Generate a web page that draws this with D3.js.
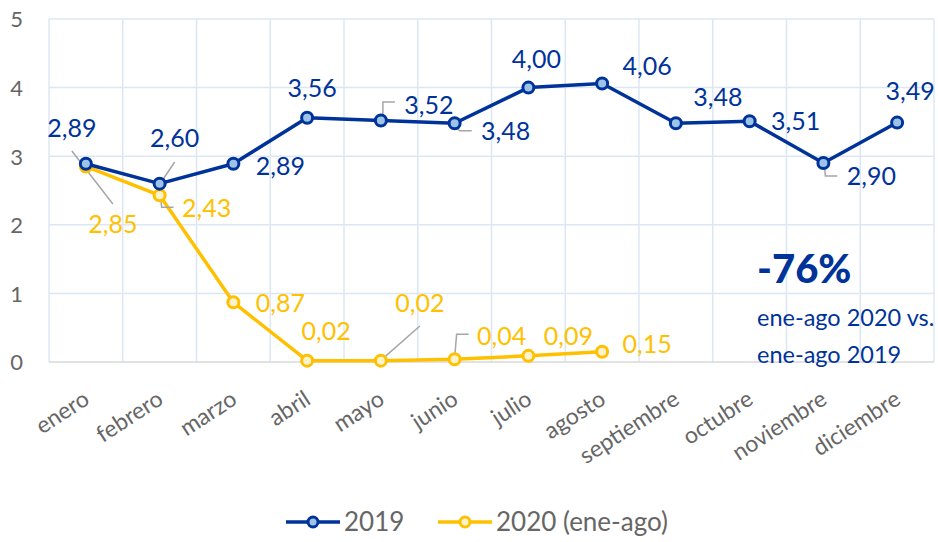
<!DOCTYPE html>
<html><head><meta charset="utf-8">
<script src="https://cdn.jsdelivr.net/npm/d3@7"></script>
<style>body{margin:0;background:#fff}svg{display:block;font-family:Lato,"Open Sans",sans-serif}</style>
</head><body><svg id="c" width="938" height="542"></svg>
<script>
const months = ["enero","febrero","marzo","abril","mayo","junio","julio","agosto","septiembre","octubre","noviembre","diciembre"];
const values2019 = [2.89,2.60,2.89,3.56,3.52,3.48,4.00,4.06,3.48,3.51,2.90,3.49];
const values2020 = [2.85,2.43,0.87,0.02,0.02,0.04,0.09,0.15];
const yTicks = [0,1,2,3,4,5];
const seriesNames = ["2019","2020 (ene-ago)"];

// layout (label offsets relative to points)
const off2019 = [[-14,-27],[15,-37],[47,11],[5,-21],[48,-7],[51,17],[8,-20],[45,-8],[42,-17],[46,9],[48,22],[13,-23]];
const off2020 = [[27,67],[47,22],[47,10],[19,-21],[39,-49],[47,-14],[40,-11],[45,1]];
const leaders2019 = {1:[[15,-21.6],[3,-3.6]],4:[[14,-18.5],[2,-18.5],[2,-2.5]],5:[[0,2],[5,7.5],[17,7.5]],10:[[1,1],[2,13],[14,13]]};
const leaders2020 = {0:[[-14,-15.5],[27,37.5]],1:[[1,2],[2,12],[14,12]],4:[[39,-34.6],[1,-1.3]],5:[[14,-25],[2,-25],[0,-1]]};

const C1="#003399", F1="#9dc3e6", C2="#ffc000", F2="#fff2cc", GRID="#dce7f4", TXT="#666666";
const svg=d3.select("#c");
const x=d3.scaleBand().domain(months).range([49,934]);
const y=d3.scaleLinear().domain([0,5]).range([362,19]);
const cx=d=>x(d)+x.bandwidth()/2;

// grid
svg.append("g").selectAll("line").data(yTicks.filter(t=>t>0)).join("line")
 .attr("x1",49).attr("x2",934).attr("y1",d=>y(d)).attr("y2",d=>y(d)).attr("stroke",GRID).attr("stroke-width",1.5);
const vb=months.map(m=>x(m)).concat([934]);
svg.append("g").selectAll("line").data(vb).join("line")
 .attr("x1",d=>d).attr("x2",d=>d).attr("y1",y(5)).attr("y2",y(0)).attr("stroke",GRID).attr("stroke-width",1.5);
svg.append("line").attr("x1",49).attr("x2",934).attr("y1",y(0)).attr("y2",y(0)).attr("stroke","#d9d9d9").attr("stroke-width",1.5);

// y axis
const ya=svg.append("g").attr("transform","translate(23,0)").call(d3.axisLeft(y).tickValues(yTicks).tickSize(0).tickPadding(0).tickFormat(d3.format("d")));
ya.select(".domain").remove();
ya.selectAll("text").attr("font-size",22).attr("fill",TXT).attr("font-family","Lato").attr("text-anchor","end").attr("dy","0.36em");

// x axis
const xa=svg.append("g").attr("transform",`translate(0,${y(0)})`).call(d3.axisBottom(x).tickSize(0).tickPadding(0));
xa.select(".domain").remove();
xa.selectAll("text").attr("font-size",23).attr("fill",TXT).attr("font-family","Lato")
 .attr("text-anchor","end").attr("dy",0).attr("y",0)
 .attr("transform","translate(5,41) rotate(-33)");

// lines
const line=d3.line().x((d,i)=>cx(months[i])).y(d=>y(d));
function drawSeries(vals,col,fill,offs,leaders){
  const g=svg.append("g");
  g.append("path").datum(vals).attr("d",line).attr("fill","none").attr("stroke",col).attr("stroke-width",3.5).attr("stroke-linejoin","round");
  Object.entries(leaders).forEach(([i,pts])=>{
    const px=cx(months[+i]), py=y(vals[+i]);
    g.append("polyline").attr("points",pts.map(p=>[px+p[0],py+p[1]].join(",")).join(" "))
     .attr("fill","none").attr("stroke","#a6a6a6").attr("stroke-width",1.5);
  });
  g.selectAll("circle").data(vals).join("circle")
   .attr("cx",(d,i)=>cx(months[i])).attr("cy",d=>y(d)).attr("r",5.5)
   .attr("fill",fill).attr("stroke",col).attr("stroke-width",3);
  g.selectAll("text").data(vals).join("text")
   .attr("x",(d,i)=>cx(months[i])+offs[i][0]).attr("y",(d,i)=>y(d)+offs[i][1])
   .attr("text-anchor","middle").attr("font-size",25).attr("fill",col)
   .text(d=>d3.format(".2f")(d).replace(".",","));
}
drawSeries(values2020,C2,F2,off2020,leaders2020);
drawSeries(values2019,C1,F1,off2019,leaders2019);

// annotation
svg.append("text").attr("x",757).attr("y",283).attr("font-size",40).attr("font-weight",900).attr("fill",C1).text("-76%");
svg.append("text").attr("x",757).attr("y",326).attr("font-size",23.5).attr("fill",C1).text("ene-ago 2020 vs.");
svg.append("text").attr("x",757).attr("y",363).attr("font-size",23.5).attr("fill",C1).text("ene-ago 2019");

// legend
const leg=[{n:seriesNames[0],c:C1,f:F1,x:286},{n:seriesNames[1],c:C2,f:F2,x:438}];
leg.forEach(l=>{
  const g=svg.append("g").attr("transform",`translate(${l.x},522)`);
  g.append("line").attr("x1",0).attr("x2",54).attr("stroke",l.c).attr("stroke-width",3.5);
  g.append("circle").attr("cx",27).attr("r",5).attr("fill",l.f).attr("stroke",l.c).attr("stroke-width",3);
  g.append("text").attr("x",58).attr("y",9).attr("font-size",26).attr("fill",TXT).text(l.n);
});
</script></body></html>
